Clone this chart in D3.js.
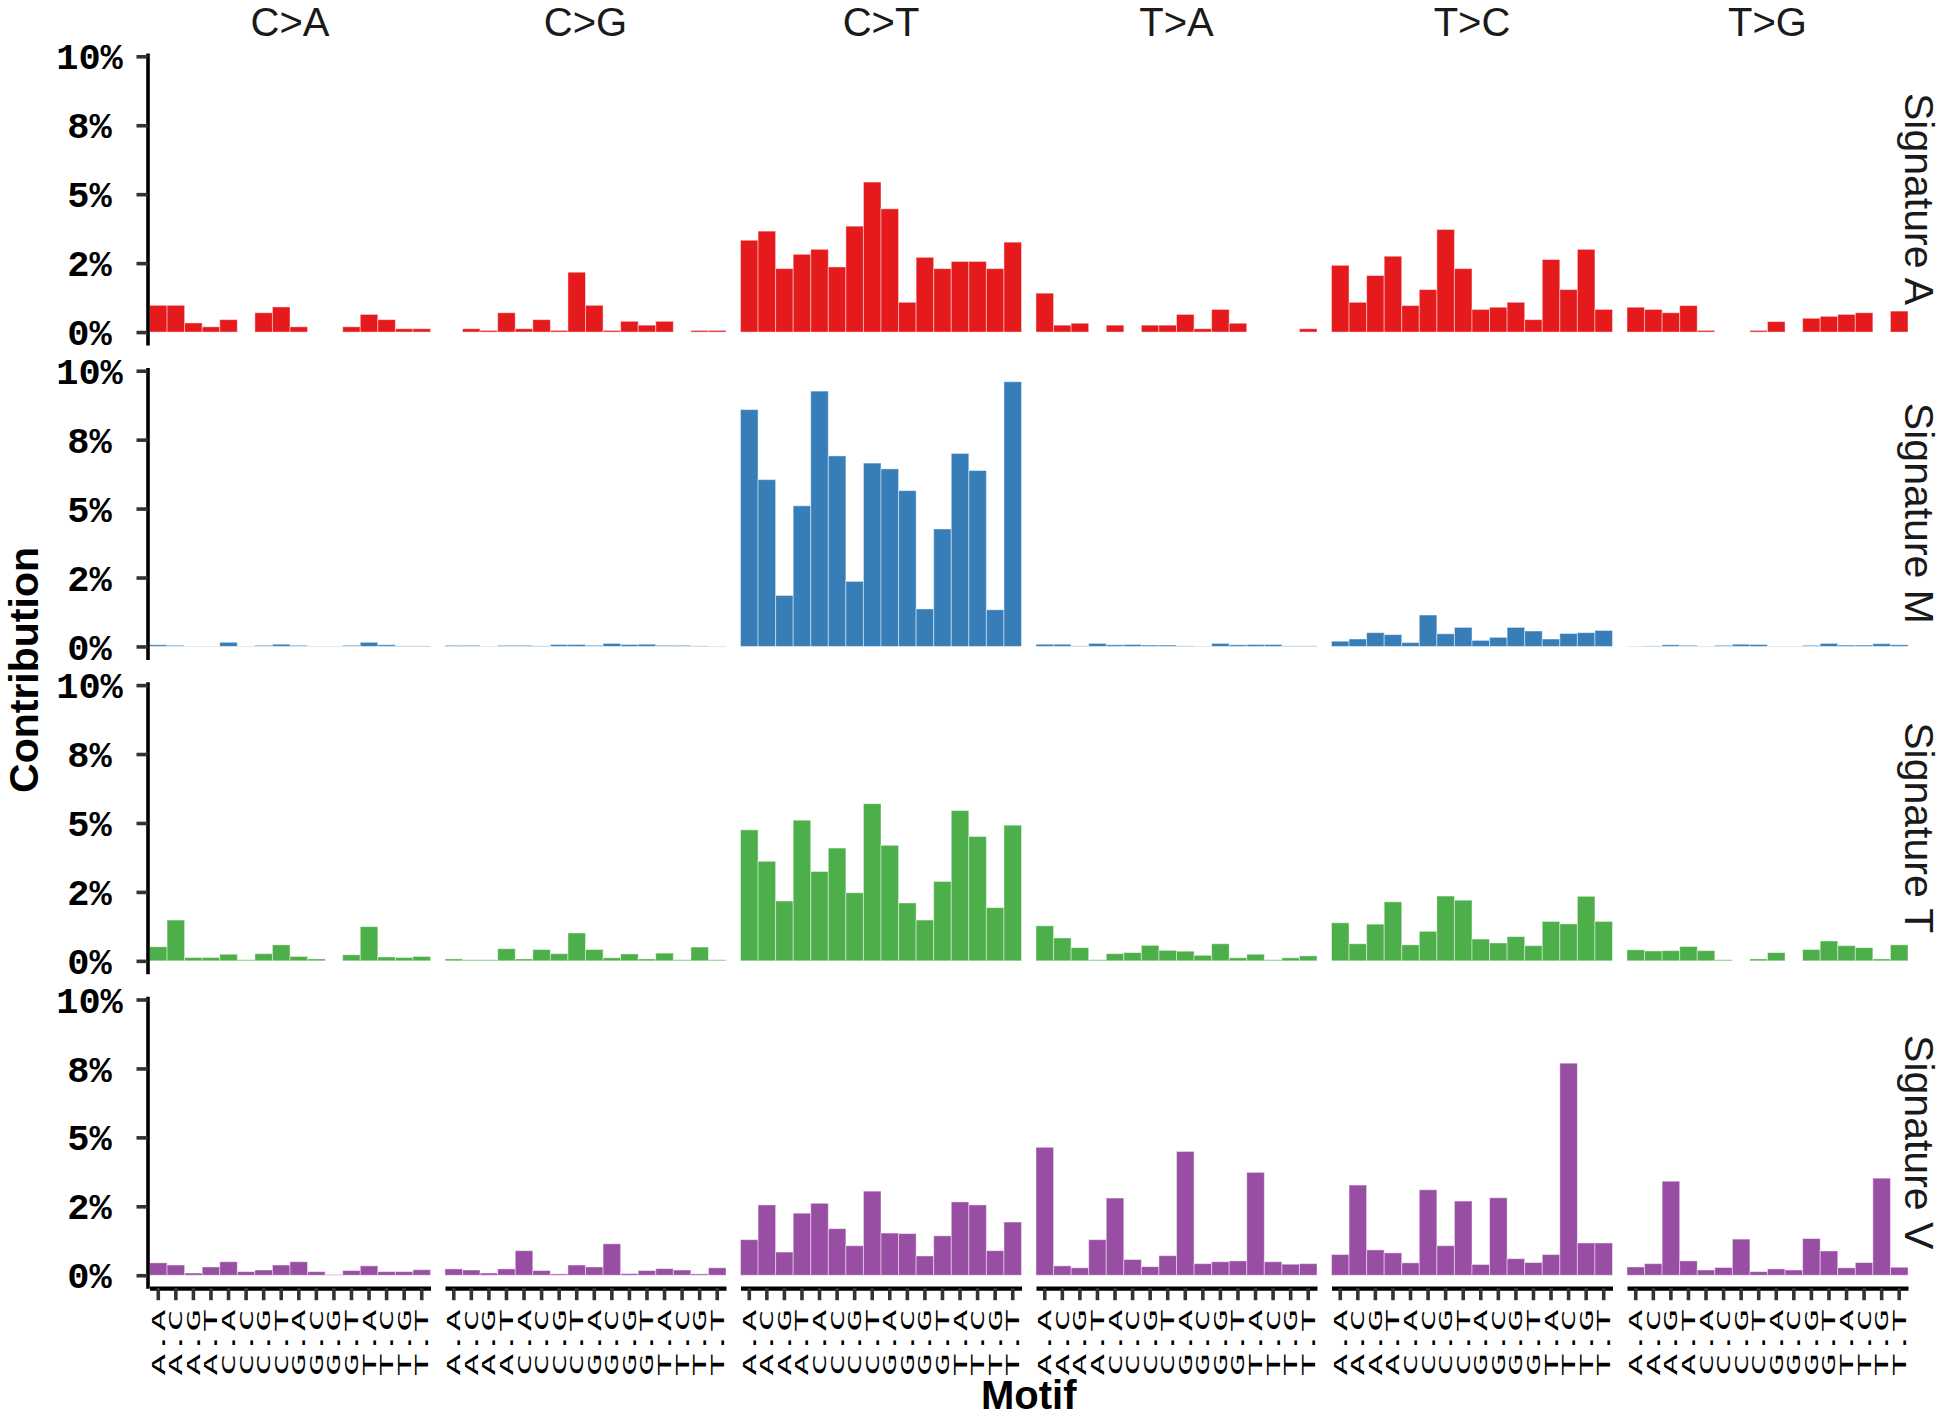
<!DOCTYPE html>
<html><head><meta charset="utf-8">
<script src="https://cdn.jsdelivr.net/npm/d3@7"></script>
<style>body{margin:0;background:#fff}svg{display:block}</style>
</head><body>
<svg id="chart" width="1946" height="1418"></svg>
<script>
const mutationTypes = ["C>A","C>G","C>T","T>A","T>C","T>G"];
const contexts = ["A.A","A.C","A.G","A.T","C.A","C.C","C.G","C.T","G.A","G.C","G.G","G.T","T.A","T.C","T.G","T.T"];
const signatures = ["Signature A","Signature M","Signature T","Signature V"];
const sigColors = ["#E41A1C","#377EB8","#4DAF4A","#984EA3"];
const yTicks = [0, 2.5, 5, 7.5, 10];
const yTickLabels = ["0%","2%","5%","8%","10%"];

// values in percent, 6 mutation types x 16 contexts
const sigA = [
 0.97,0.97,0.33,0.19,0.45,0,0.70,0.91,0.19,0,0,0.19,0.64,0.45,0.12,0.12,
 0,0.12,0.06,0.70,0.12,0.45,0.06,2.17,0.97,0.06,0.39,0.25,0.39,0,0.06,0.06,
 3.33,3.66,2.30,2.82,3.00,2.36,3.84,5.44,4.47,1.08,2.71,2.30,2.56,2.56,2.30,3.26,
 1.41,0.25,0.32,0,0.25,0,0.25,0.25,0.64,0.12,0.82,0.32,0,0,0,0.12,
 2.42,1.08,2.05,2.75,0.96,1.54,3.72,2.30,0.82,0.90,1.08,0.45,2.63,1.54,3.00,0.82,
 0.90,0.82,0.70,0.96,0.06,0,0,0.06,0.38,0,0.50,0.57,0.64,0.70,0,0.76];
const sigM = [
 0.06,0.04,0.01,0.01,0.15,0.01,0.04,0.08,0.04,0.01,0.01,0.04,0.15,0.06,0.02,0.02,
 0.04,0.04,0.01,0.04,0.04,0.02,0.07,0.07,0.04,0.11,0.07,0.08,0.04,0.04,0.02,0.01,
 8.59,6.05,1.85,5.10,9.26,6.91,2.36,6.65,6.44,5.65,1.36,4.26,7.00,6.38,1.33,9.60,
 0.08,0.08,0.02,0.11,0.06,0.07,0.05,0.05,0.02,0.01,0.11,0.06,0.07,0.07,0.02,0.02,
 0.19,0.27,0.50,0.43,0.14,1.14,0.46,0.69,0.22,0.33,0.69,0.56,0.27,0.47,0.50,0.58,
 0.01,0.02,0.06,0.04,0.01,0.04,0.08,0.07,0.01,0.01,0.04,0.11,0.05,0.05,0.10,0.06];
const sigT = [
 0.51,1.48,0.12,0.12,0.24,0.04,0.26,0.58,0.16,0.07,0,0.22,1.24,0.14,0.12,0.16,
 0.07,0.04,0.04,0.44,0.07,0.41,0.26,1.01,0.41,0.11,0.25,0.07,0.28,0.04,0.50,0.04,
 4.75,3.61,2.17,5.10,3.24,4.09,2.47,5.70,4.19,2.10,1.48,2.88,5.45,4.51,1.93,4.92,
 1.27,0.83,0.48,0.04,0.26,0.30,0.56,0.38,0.35,0.20,0.62,0.11,0.24,0.04,0.11,0.18,
 1.38,0.62,1.33,2.14,0.58,1.07,2.35,2.20,0.79,0.65,0.88,0.55,1.43,1.34,2.34,1.43,
 0.40,0.36,0.37,0.52,0.37,0.04,0,0.07,0.30,0,0.41,0.72,0.55,0.48,0.07,0.58];
const sigV = [
 0.45,0.37,0.08,0.30,0.49,0.13,0.19,0.37,0.49,0.13,0.02,0.17,0.34,0.13,0.13,0.20,
 0.23,0.19,0.08,0.23,0.89,0.17,0.05,0.37,0.30,1.14,0.06,0.17,0.24,0.19,0.05,0.27,
 1.29,2.55,0.84,2.25,2.61,1.69,1.07,3.05,1.53,1.51,0.70,1.43,2.66,2.55,0.89,1.93,
 4.64,0.34,0.27,1.29,2.80,0.57,0.31,0.71,4.49,0.42,0.49,0.52,3.73,0.49,0.40,0.42,
 0.75,3.27,0.92,0.81,0.45,3.10,1.07,2.69,0.39,2.81,0.60,0.46,0.75,7.69,1.17,1.17,
 0.30,0.42,3.41,0.52,0.19,0.28,1.31,0.13,0.23,0.19,1.33,0.88,0.27,0.46,3.52,0.29];
const sigValues = [sigA, sigM, sigT, sigV];

const svg = d3.select("#chart");
const colScale = d3.scaleBand().domain(mutationTypes).range([149.5, 1908]).paddingInner(0.049).paddingOuter(0);
const rowScale = d3.scaleBand().domain(signatures).range([53, 1288.2]).paddingInner(0.0712).paddingOuter(0);
const pw = colScale.bandwidth(), ph = rowScale.bandwidth();
const xInner = d3.scaleBand().domain(contexts).range([0, pw]).padding(0);
const y = d3.scaleLinear().domain([-0.47, 10.12]).range([ph, 0]);

const rows = signatures.map((s, r) => ({sig: s, r, color: sigColors[r], vals: sigValues[r]}));

rows.forEach(row => {
  const ry = rowScale(row.sig);
  mutationTypes.forEach((mt, c) => {
    const g = svg.append("g").attr("transform", `translate(${colScale(mt)},${ry})`);
    const data = contexts.map((ctx, i) => ({ctx, v: row.vals[c * 16 + i]}));
    g.selectAll("rect").data(data).join("rect")
      .attr("x", d => xInner(d.ctx))
      .attr("width", xInner.bandwidth())
      .attr("y", d => y(Math.max(d.v, 0)))
      .attr("height", d => Math.max(0, y(0) - y(d.v)))
      .attr("fill", row.color)
      .attr("stroke", "#fff").attr("stroke-opacity", 0.45).attr("stroke-width", 1);
  });
  const ax = svg.append("g").attr("transform", `translate(147.5,${ry})`)
    .call(d3.axisLeft(y).tickValues(yTicks).tickFormat((d, i) => yTickLabels[i]).tickSize(11).tickSizeOuter(0));
  ax.select(".domain").attr("stroke", "#000").attr("stroke-width", 3.6);
  ax.selectAll(".tick line").attr("stroke", "#333").attr("stroke-width", 3.6);
  ax.selectAll(".tick text").attr("x", -58).attr("text-anchor", "middle").attr("dy", "0.34em")
    .attr("font-family", "'Liberation Mono', 'DejaVu Sans Mono', monospace").attr("font-weight", "bold")
    .attr("font-size", 37).attr("fill", "#000");
  svg.append("text")
    .attr("transform", `translate(1905,${ry + ph / 2}) rotate(90)`)
    .attr("text-anchor", "middle")
    .attr("font-family", "'Liberation Sans', Arial, sans-serif").attr("font-size", 41).attr("fill", "#1a1a1a")
    .text(row.sig);
});

mutationTypes.forEach(mt => {
  svg.append("text").attr("x", colScale(mt) + pw / 2).attr("y", 36)
    .attr("text-anchor", "middle")
    .attr("font-family", "'Liberation Sans', Arial, sans-serif").attr("font-size", 40).attr("fill", "#1a1a1a")
    .text(mt);
});

const lastRowY = rowScale(signatures[3]) + ph;
mutationTypes.forEach(mt => {
  const gx = svg.append("g").attr("transform", `translate(${colScale(mt)},${lastRowY})`)
    .call(d3.axisBottom(xInner).tickSize(12).tickSizeOuter(0));
  gx.select(".domain").attr("stroke", "#000").attr("stroke-width", 4.2);
  gx.selectAll(".tick line").attr("stroke", "#333").attr("stroke-width", 3.6);
  gx.selectAll(".tick text").remove();
  contexts.forEach(ctx => {
    const cx = colScale(mt) + xInner(ctx) + xInner.bandwidth() / 2;
    svg.append("text")
      .attr("transform", `translate(${cx + 6.5},${lastRowY + 21}) rotate(-90) scale(2.05,1)`)
      .attr("text-anchor", "end")
      .attr("font-family", "'DejaVu Sans Mono', monospace").attr("font-size", 18).attr("fill", "#000")
      .text(ctx);
  });
});

svg.append("text").attr("transform", "translate(38,670) rotate(-90)").attr("text-anchor", "middle")
  .attr("font-family", "'Liberation Sans', Arial, sans-serif").attr("font-weight", "bold").attr("font-size", 41)
  .attr("fill", "#000").text("Contribution");
svg.append("text").attr("x", (149.5 + 1908) / 2).attr("y", 1409).attr("text-anchor", "middle")
  .attr("font-family", "'Liberation Sans', Arial, sans-serif").attr("font-weight", "bold").attr("font-size", 40)
  .attr("fill", "#000").text("Motif");
</script>
</body></html>
